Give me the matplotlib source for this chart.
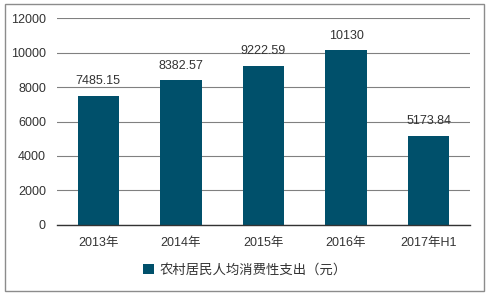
import matplotlib
matplotlib.use('Agg')
import matplotlib.pyplot as plt
from matplotlib.patches import Rectangle

plt.rcParams['font.family'] = ['Liberation Sans', 'Noto Sans CJK SC']

years = ['2013年', '2014年', '2015年', '2016年', '2017年H1']
values = [7485.15, 8382.57, 9222.59, 10130, 5173.84]
labels = ['7485.15', '8382.57', '9222.59', '10130', '5173.84']
series_name = '农村居民人均消费性支出（元）'
yticks = [0, 2000, 4000, 6000, 8000, 10000, 12000]

bar_color = '#00506b'
text_color = '#333333'

fig = plt.figure(figsize=(4.9, 2.96), dpi=100)
ax = fig.add_axes([0.1163, 0.240, 0.8427, 0.699])

x = list(range(len(years)))
ax.bar(x, values, width=0.5, color=bar_color, zorder=3, label=series_name)
for xi, v, s in zip(x, values, labels):
    ax.text(xi, v + 500, s, ha='center', va='bottom', fontsize=9, color=text_color)

ax.set_xlim(-0.5, len(years) - 0.5)
ax.set_ylim(0, 12000)
ax.set_yticks(yticks)
ax.set_yticklabels([str(t) for t in yticks], fontsize=9, color=text_color)
ax.set_xticks(x)
ax.set_xticklabels(years, fontsize=9, color=text_color)
ax.tick_params(axis='y', length=0, pad=8)
ax.tick_params(axis='x', length=0, pad=9)
ax.grid(axis='y', color='#808080', linewidth=0.8, zorder=0)
for side in ['top', 'right', 'left']:
    ax.spines[side].set_visible(False)
ax.spines['bottom'].set_color('#333333')
ax.spines['bottom'].set_linewidth(1.0)
ax.spines['bottom'].set_zorder(4)

fig.legend(loc='center', bbox_to_anchor=(0.50, 0.088), frameon=False,
           fontsize=9.6, handlelength=0.8, handleheight=0.8, handletextpad=0.4,
           labelcolor=text_color)

fig.patches.append(Rectangle((5 / 490, 5 / 296), 479 / 490, 287 / 296,
                             transform=fig.transFigure, fill=False,
                             edgecolor='#8c8c8c', linewidth=1.0))

fig.savefig('out.png', dpi=100)
